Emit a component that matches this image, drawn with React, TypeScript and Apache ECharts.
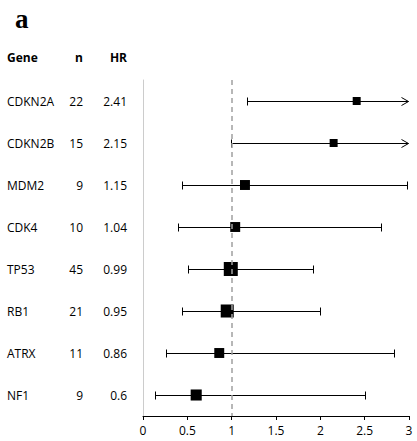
import React, { useEffect, useRef } from "react";
import * as echarts from "echarts";

const genes = ["CDKN2A", "CDKN2B", "MDM2", "CDK4", "TP53", "RB1", "ATRX", "NF1"];
const counts = [22, 15, 9, 10, 45, 21, 11, 9];
const hrValues = [2.41, 2.15, 1.15, 1.04, 0.99, 0.95, 0.86, 0.6];
const hrLabels = ["2.41", "2.15", "1.15", "1.04", "0.99", "0.95", "0.86", "0.6"];
const lowerCI = [1.17, 0.99, 0.44, 0.4, 0.51, 0.44, 0.26, 0.14];
const upperCI = [4.96, 4.67, 2.99, 2.69, 1.93, 2.01, 2.84, 2.52];
const weights = [0.57, 0.57, 0.71, 0.71, 1, 0.93, 0.71, 0.79];
const headers = ["Gene", "n", "HR"];
const xMin = 0;
const xMax = 3;
const xStep = 0.5;
const refLine = 1;

const FONT = "'Open Sans', 'Noto Sans', sans-serif";

export default function App() {
  const ref = useRef<HTMLDivElement>(null);
  useEffect(() => {
    if (!ref.current) return;
    const chart = echarts.init(ref.current, null, { renderer: "svg" });
    const labelStyle = { color: "#000", fontSize: 12, fontFamily: FONT };
    const option: any = {
      animation: false,
      backgroundColor: "#fff",
      grid: { left: 143, right: 8, top: 80, height: 336 },
      xAxis: {
        type: "value",
        min: xMin,
        max: xMax,
        interval: xStep,
        axisLine: { show: true, lineStyle: { color: "#000", width: 1 } },
        axisTick: { show: true, inside: false, length: 4, lineStyle: { color: "#000" } },
        axisLabel: { ...labelStyle, margin: 8, formatter: (v: number) => String(v) },
        splitLine: { show: false },
      },
      yAxis: [
        {
          type: "category",
          data: genes,
          inverse: true,
          position: "left",
          axisLine: { show: true, lineStyle: { color: "#cccccc", width: 1 } },
          axisTick: { show: false },
          axisLabel: { ...labelStyle, align: "left", margin: 136 },
          splitLine: { show: false },
        },
        {
          type: "category",
          data: genes,
          inverse: true,
          position: "left",
          axisLine: { show: false },
          axisTick: { show: false },
          axisLabel: {
            ...labelStyle,
            align: "right",
            margin: 60,
            formatter: (_v: string, i: number) => String(counts[i]),
          },
        },
        {
          type: "category",
          data: genes,
          inverse: true,
          position: "left",
          axisLine: { show: false },
          axisTick: { show: false },
          axisLabel: {
            ...labelStyle,
            align: "right",
            margin: 16,
            formatter: (_v: string, i: number) => hrLabels[i],
          },
        },
      ],
      graphic: [
        {
          type: "text",
          left: 15,
          top: 5,
          style: {
            text: "a",
            fontFamily: "'Liberation Serif', 'DejaVu Serif', serif",
            fontWeight: "bold",
            fontSize: 27,
            fill: "#000",
          },
        },
        {
          type: "text",
          x: 7,
          y: 57,
          style: { text: headers[0], fontFamily: FONT, fontWeight: "bold", fontSize: 12, fill: "#000", textAlign: "left", textVerticalAlign: "middle" },
        },
        {
          type: "text",
          x: 83,
          y: 57,
          style: { text: headers[1], fontFamily: FONT, fontWeight: "bold", fontSize: 12, fill: "#000", textAlign: "right", textVerticalAlign: "middle" },
        },
        {
          type: "text",
          x: 127,
          y: 57,
          style: { text: headers[2], fontFamily: FONT, fontWeight: "bold", fontSize: 12, fill: "#000", textAlign: "right", textVerticalAlign: "middle" },
        },
      ],
      series: [
        {
          type: "custom",
          xAxisIndex: 0,
          yAxisIndex: 0,
          z: 2,
          encode: { x: [0, 1], y: 2 },
          data: genes.map((g, i) => [lowerCI[i], upperCI[i], i]),
          renderItem: (params: any, api: any) => {
            const lo = api.value(0);
            const hi = api.value(1);
            const i = api.value(2);
            const p0 = api.coord([Math.max(lo, xMin), i]);
            const p1 = api.coord([Math.min(hi, xMax), i]);
            const y = Math.round(p0[1]) + 0.5;
            const x0 = Math.round(p0[0]) + 0.5;
            const x1 = Math.round(p1[0]) - 0.5;
            const st = { stroke: "#000", lineWidth: 1, fill: "none" };
            const children: any[] = [
              { type: "line", shape: { x1: x0, y1: y, x2: x1, y2: y }, style: st },
              { type: "line", shape: { x1: x0, y1: y - 4, x2: x0, y2: y + 4 }, style: st },
            ];
            if (hi > xMax) {
              children.push({
                type: "polyline",
                shape: { points: [[x1 - 7, y - 4], [x1, y], [x1 - 7, y + 4]] },
                style: st,
              });
            } else {
              children.push({ type: "line", shape: { x1: x1, y1: y - 4, x2: x1, y2: y + 4 }, style: st });
            }
            return { type: "group", children };
          },
        },
        {
          type: "scatter",
          xAxisIndex: 0,
          yAxisIndex: 0,
          z: 3,
          symbol: "rect",
          symbolSize: (_v: any, p: any) => 14 * weights[p.dataIndex],
          itemStyle: { color: "#000", opacity: 1 },
          data: hrValues.map((v, i) => [v, i]),
        },
        {
          type: "scatter",
          xAxisIndex: 0,
          yAxisIndex: 0,
          z: 5,
          data: [],
          markLine: {
            silent: true,
            symbol: "none",
            label: { show: false },
            lineStyle: { color: "#a0a0a0", width: 1.5, type: [5, 4] },
            data: [{ xAxis: refLine }],
          },
        },
      ],
    };
    chart.setOption(option);
    return () => chart.dispose();
  }, []);
  return (
    <div
      ref={ref}
      style={{ position: "fixed", left: 0, top: 0, width: 417, height: 441 }}
    />
  );
}
